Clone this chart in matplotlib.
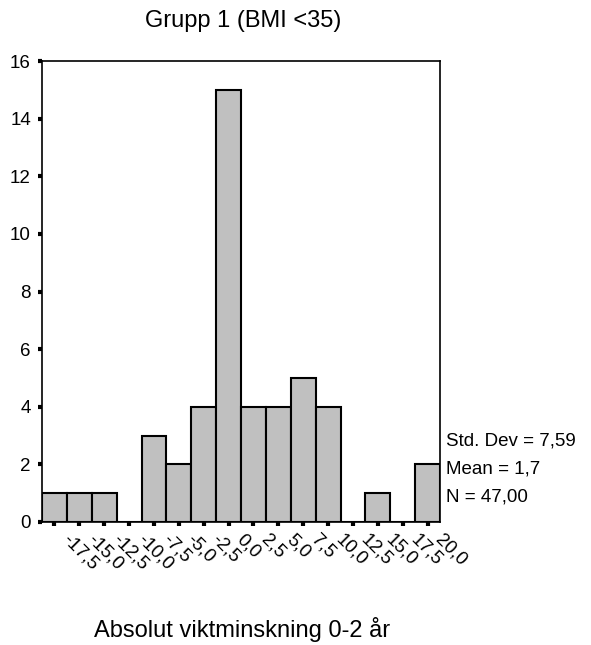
import numpy as np
import matplotlib
matplotlib.use("Agg")
import matplotlib.pyplot as plt
from matplotlib.transforms import ScaledTranslation

plt.rcParams["font.family"] = ["Liberation Sans", "DejaVu Sans"]

# histogram data
bin_centers = [-17.5, -15.0, -12.5, -10.0, -7.5, -5.0, -2.5, 0.0, 2.5, 5.0, 7.5, 10.0, 12.5, 15.0, 17.5, 20.0]
counts = [1, 1, 1, 0, 3, 2, 4, 15, 4, 4, 5, 4, 0, 1, 0, 2]
tick_labels = ["-17,5", "-15,0", "-12,5", "-10,0", "-7,5", "-5,0", "-2,5", "0,0",
               "2,5", "5,0", "7,5", "10,0", "12,5", "15,0", "17,5", "20,0"]
y_ticks = [0, 2, 4, 6, 8, 10, 12, 14, 16]
stats_lines = ["Std. Dev = 7,59", "Mean = 1,7", "N = 47,00"]

fig = plt.figure(figsize=(5.91, 6.45), dpi=100)
ax = fig.add_axes([0.0711, 0.1907, 0.6734, 0.7147])

ax.bar(bin_centers, counts, width=2.5, color="#c0c0c0", edgecolor="black", linewidth=1.5)

ax.set_xlim(-18.75, 21.25)
ax.set_ylim(0, 16)
ax.set_yticks(y_ticks)
ax.set_xticks(bin_centers)
ax.set_xticklabels([])

# rotated x labels placed by hand, shifted right of the tick like the original
shift = ScaledTranslation(12 / 72, -6.5 / 72, fig.dpi_scale_trans)
for xc, lab in zip(bin_centers, tick_labels):
    ax.text(xc, 0, lab, transform=ax.get_xaxis_transform() + shift,
            rotation=-45, ha="left", va="top", rotation_mode="anchor",
            fontsize=13.5, clip_on=False)

for s in ax.spines.values():
    s.set_linewidth(1.2)

ax.tick_params(axis="both", direction="out", length=3, width=3, labelsize=13.5, color="black")
ax.tick_params(axis="y", pad=5)

fig.text(243 / 591, 1 - 21 / 645, "Grupp 1 (BMI <35)", ha="center", va="center", fontsize=17)
fig.text(242 / 591, 1 - 629 / 645, "Absolut viktminskning 0-2 år", ha="center", va="center", fontsize=17)

y_pos = [441, 469, 497]
for txt, yp in zip(stats_lines, y_pos):
    fig.text(446 / 591, 1 - yp / 645, txt, ha="left", va="center", fontsize=13.5)

fig.savefig("out.png", dpi=100)
